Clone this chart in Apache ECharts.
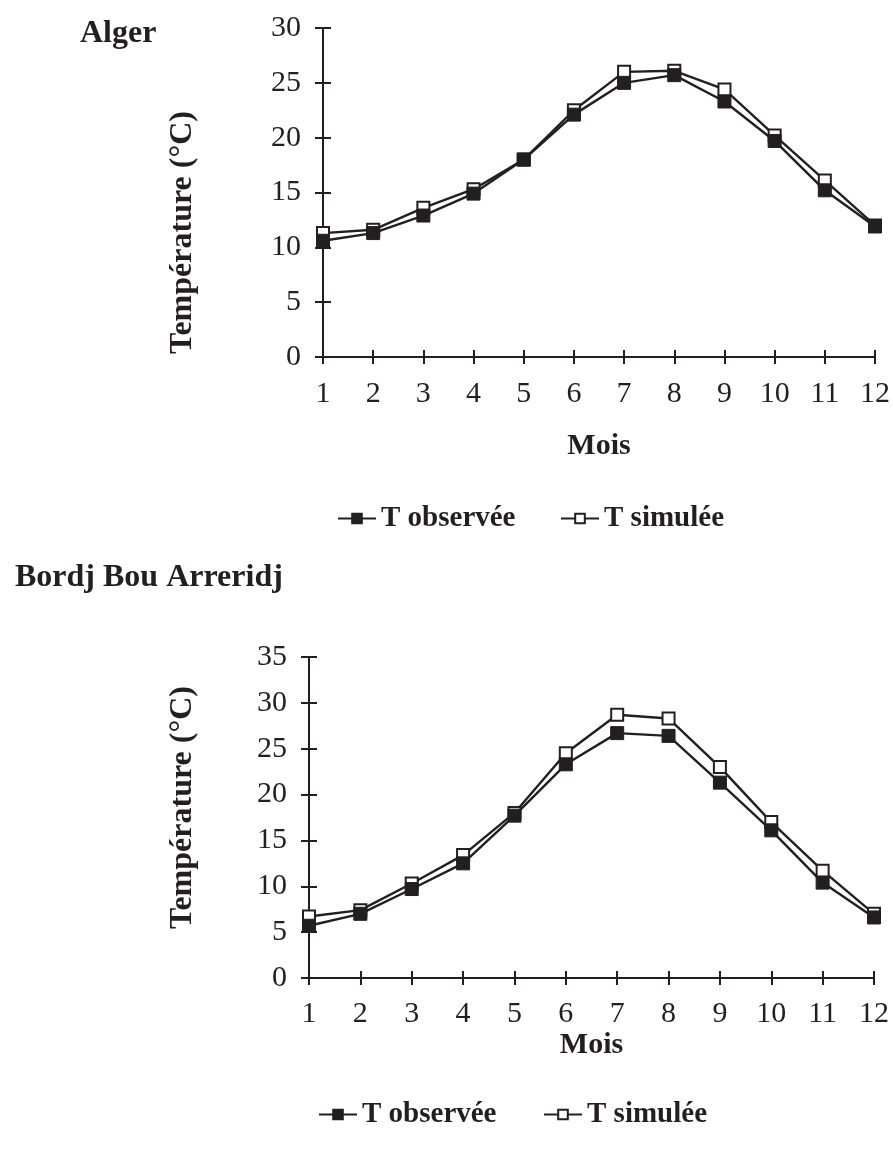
<!DOCTYPE html>
<html>
<head>
<meta charset="utf-8">
<script src="https://cdn.jsdelivr.net/npm/echarts@6/dist/echarts.min.js"></script>
<style>
html,body{margin:0;padding:0;background:#fff;}
#chart{width:893px;height:1162px;}
</style>
</head>
<body>
<div id="chart"></div>
<script>
const months = ['1','2','3','4','5','6','7','8','9','10','11','12'];
const algerObs = [10.6, 11.3, 12.9, 14.9, 18.0, 22.1, 25.0, 25.7, 23.3, 19.7, 15.2, 11.9];
const algerSim = [11.3, 11.6, 13.6, 15.3, 18.0, 22.5, 26.0, 26.1, 24.4, 20.2, 16.1, 12.0];
const bbaObs = [5.7, 7.0, 9.7, 12.5, 17.7, 23.3, 26.7, 26.4, 21.3, 16.1, 10.4, 6.6];
const bbaSim = [6.7, 7.4, 10.3, 13.4, 18.0, 24.5, 28.7, 28.3, 23.0, 17.0, 11.7, 7.0];
const obsName = 'T observée';
const simName = 'T simulée';
const yTitle = 'Température (°C)';
const xTitle = 'Mois';

const INK = '#231f20';
const SERIF = '"Liberation Serif", "Times New Roman", serif';

function xAxes(grid, labelMargin, nameGap) {
  return [
    {
      type: 'category', gridIndex: grid, position: 'bottom', data: months, boundaryGap: false,
      axisLine: {lineStyle: {color: INK, width: 2}},
      axisTick: {show: true, inside: false, length: 7, lineStyle: {color: INK, width: 2}},
      axisLabel: {color: INK, fontFamily: SERIF, fontSize: 30, margin: labelMargin},
      splitLine: {show: false},
      name: xTitle, nameLocation: 'middle', nameGap: nameGap,
      nameTextStyle: {color: INK, fontFamily: SERIF, fontSize: 30, fontWeight: 'bold'}
    },
    {
      type: 'category', gridIndex: grid, position: 'bottom', offset: 0, data: months, boundaryGap: false,
      axisLine: {show: false},
      axisTick: {show: true, inside: true, length: 7, lineStyle: {color: INK, width: 2}},
      axisLabel: {show: false}, splitLine: {show: false}
    }
  ];
}
function yAxes(grid, max, nameGap, namePad) {
  return [
    {
      type: 'value', gridIndex: grid, position: 'left', min: 0, max: max, interval: 5,
      axisLine: {show: true, lineStyle: {color: INK, width: 2}},
      axisTick: {show: true, inside: false, length: 8, lineStyle: {color: INK, width: 2}},
      axisLabel: {color: INK, fontFamily: SERIF, fontSize: 30, margin: 22},
      splitLine: {show: false},
      name: yTitle, nameLocation: 'middle', nameRotate: 90, nameGap: nameGap,
      nameTextStyle: {color: INK, fontFamily: SERIF, fontSize: 32, fontWeight: 'bold', padding: namePad}
    },
    {
      type: 'value', gridIndex: grid, position: 'left', offset: 0, min: 0, max: max, interval: 5,
      axisLine: {show: false},
      axisTick: {show: true, inside: true, length: 8, lineStyle: {color: INK, width: 2}},
      axisLabel: {show: false}, splitLine: {show: false}
    }
  ];
}
function simSeries(xi, yi, data) {
  return {
    type: 'line', name: simName, xAxisIndex: xi, yAxisIndex: yi, data: data,
    symbol: 'rect', symbolSize: 12, showAllSymbol: true,
    lineStyle: {color: INK, width: 2.4},
    itemStyle: {color: '#ffffff', borderColor: INK, borderWidth: 2},
    emphasis: {disabled: true}, animation: false
  };
}
function obsSeries(xi, yi, data) {
  return {
    type: 'line', name: obsName, xAxisIndex: xi, yAxisIndex: yi, data: data,
    symbol: 'rect', symbolSize: 13, showAllSymbol: true,
    lineStyle: {color: INK, width: 2.4},
    itemStyle: {color: INK, borderColor: INK, borderWidth: 1},
    emphasis: {disabled: true}, animation: false
  };
}
const legendText = {color: INK, fontFamily: SERIF, fontSize: 29, fontWeight: 'bold'};
function legend(name, left, top) {
  return {
    data: [name], left: left, top: top, itemWidth: 38, itemHeight: 12, itemGap: 0,
    textStyle: legendText, selectedMode: false, padding: 0
  };
}

const chart = echarts.init(document.getElementById('chart'), null, {renderer: 'canvas'});
chart.setOption({
  backgroundColor: '#ffffff',
  animation: false,
  title: [
    {text: 'Alger', left: 80, top: 18, padding: 0,
     textStyle: {color: INK, fontFamily: SERIF, fontSize: 32, fontWeight: 'bold'}},
    {text: 'Bordj Bou Arreridj', left: 15, top: 562, padding: 0,
     textStyle: {color: INK, fontFamily: SERIF, fontSize: 32, fontWeight: 'bold'}}
  ],
  legend: [
    legend(obsName, 337, 504),
    legend(simName, 560, 504),
    legend(obsName, 318, 1100),
    legend(simName, 543, 1100)
  ],
  grid: [
    {left: 323, right: 17, top: 28, height: 329},
    {left: 309, right: 19, top: 657, height: 321}
  ],
  xAxis: [].concat(xAxes(0, 22, 74), xAxes(1, 21, 50)),
  yAxis: [].concat(yAxes(0, 30, 124, [0, 80, 0, 0]), yAxes(1, 35, 110, [0, 0, 0, 20])),
  series: [
    simSeries(0, 0, algerSim),
    obsSeries(0, 0, algerObs),
    simSeries(2, 2, bbaSim),
    obsSeries(2, 2, bbaObs)
  ]
});
</script>
</body>
</html>
